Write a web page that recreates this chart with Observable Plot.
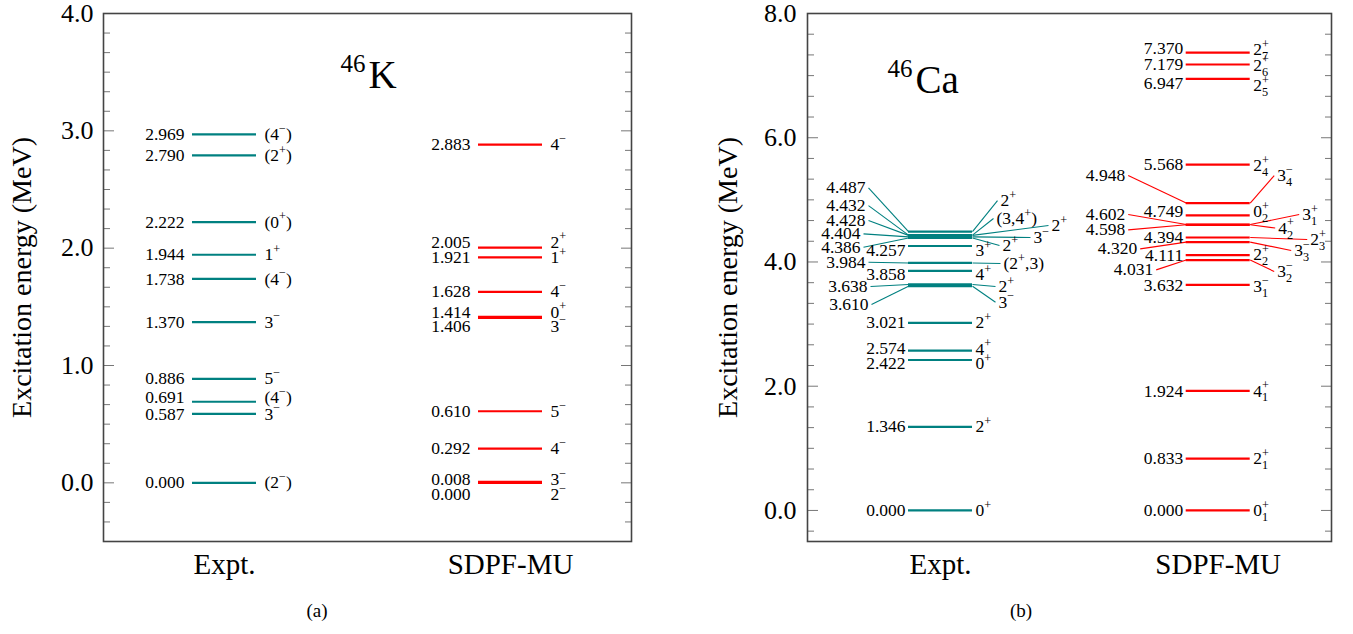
<!DOCTYPE html>
<html><head><meta charset="utf-8">
<script src="https://cdn.jsdelivr.net/npm/d3@7"></script>
<script src="https://cdn.jsdelivr.net/npm/@observablehq/plot@0.6"></script>
<style>
body{margin:0;background:#fff;}
#wrap{position:relative;width:1353px;height:634px;overflow:hidden;background:#fff;}
.pan{position:absolute;top:0;}
.cap{position:absolute;top:600px;font-size:19px;line-height:22px;transform:translateX(-50%);color:#000;font-family:'Liberation Serif';}
</style></head><body>
<div id="wrap">
  <div class="pan" id="pa" style="left:0px"></div>
  <div class="pan" id="pb" style="left:680px"></div>
  <div class="cap" style="left:317px">(a)</div>
  <div class="cap" style="left:1021px">(b)</div>
</div>
<script>
// ================= DATA =================
const columns = ["Expt.", "SDPF-MU"];

// (a) 46K
const kExptEnergy = [0.000, 0.587, 0.691, 0.886, 1.370, 1.738, 1.944, 2.222, 2.790, 2.969];
const kExptSpin   = ["(2^−)", "3^−", "(4^−)", "5^−", "3^−", "(4^−)", "1^+", "(0^+)", "(2^+)", "(4^−)"];
const kTheoEnergy = [0.000, 0.008, 0.292, 0.610, 1.406, 1.414, 1.628, 1.921, 2.005, 2.883];
const kTheoSpin   = ["2^−", "3^−", "4^−", "5^−", "3^−", "0^+", "4^−", "1^+", "2^+", "4^−"];
const kTicks = [0, 1, 2, 3, 4];

// (b) 46Ca
const caExptEnergy = [0.000, 1.346, 2.422, 2.574, 3.021, 3.610, 3.638, 3.858, 3.984, 4.257, 4.386, 4.404, 4.428, 4.432, 4.487];
const caExptSpin   = ["0^+", "2^+", "0^+", "4^+", "2^+", "3^−", "2^+", "4^+", "(2^+,3)", "3^+", "2^+", "3^−", "2^+", "(3,4^+)", "2^+"];
const caTheoEnergy = [0.000, 0.833, 1.924, 3.632, 4.031, 4.111, 4.320, 4.394, 4.598, 4.602, 4.749, 4.948, 5.568, 6.947, 7.179, 7.370];
const caTheoSpin   = ["0^+_1", "2^+_1", "4^+_1", "3^−_1", "3^−_2", "2^+_2", "3^−_3", "2^+_3", "4^+_2", "3^+_1", "0^+_2", "3^−_4", "2^+_4", "2^+_5", "2^+_6", "2^+_7"];
const caTicks = [0, 2, 4, 6, 8];

// label placement (MeV where each label sits) and leader lengths
const kExptLabelE = [0.000, 0.587, 0.724, 0.886, 1.370, 1.738, 1.944, 2.222, 2.790, 2.969];
const kTheoLabelE = [-0.102, 0.026, 0.292, 0.610, 1.335, 1.454, 1.628, 1.918, 2.051, 2.883];

const caExptLeftE   = [0.000, 1.346, 2.363, 2.613, 3.021, 3.315, 3.604, 3.797, 3.995, 4.184, 4.237, 4.453, 4.667, 4.908, 5.193];
const caExptLeftLead  = [0, 0, 0, 0, 0, 37, 38, 0, 40, 0, 45, 45, 40, 40, 40];
const caExptRightE  = [0.000, 1.346, 2.365, 2.600, 3.021, 3.352, 3.604, 3.797, 3.975, 4.184, 4.264, 4.393, 4.586, 4.699, 4.989];
const caExptRightLead = [0, 0, 0, 0, 0, 23, 23, 0, 28, 0, 27, 58, 76, 21, 25];

const caTheoLeftE   = [0.000, 0.833, 1.924, 3.620, 3.873, 4.103, 4.211, 4.398, 4.517, 4.763, 4.817, 5.391, 5.563, 6.867, 7.178, 7.431];
const caTheoLeftLead  = [0, 0, 0, 0, 30, 0, 46, 0, 58, 58, 0, 58, 0, 0, 0, 0];
const caTheoRightE  = [0.000, 0.833, 1.924, 3.604, 3.846, 4.119, 4.184, 4.361, 4.546, 4.763, 4.812, 5.391, 5.557, 6.840, 7.170, 7.420];
const caTheoRightLead = [0, 0, 0, 0, 24, 0, 41, 57, 25, 49, 0, 24, 0, 0, 0, 0];

// ================= DRAWING =================
const TEAL = "#008080", RED = "#ff0000";

function rows(E, J, lE, lLead, rE, rLead, cx, half) {
  return E.map((e, i) => ({
    E: e, J: J[i], lE: lE[i], lLead: lLead ? lLead[i] : 0,
    rE: rE[i], rLead: rLead ? rLead[i] : 0, x0: cx - half, x1: cx + half
  }));
}

function levelMarks(data, color, gap, fs) {
  return [
    Plot.link(data.filter(d => d.lLead > 0), {x1: "x0", y1: "E", x2: d => d.x0 - d.lLead, y2: "lE", stroke: color, strokeWidth: 1.1}),
    Plot.link(data.filter(d => d.rLead > 0), {x1: "x1", y1: "E", x2: d => d.x1 + d.rLead, y2: "rE", stroke: color, strokeWidth: 1.1}),
    Plot.ruleY(data, {y: "E", x1: "x0", x2: "x1", stroke: color, strokeWidth: 2.2}),
    Plot.text(data, {x: d => d.x0 - d.lLead, y: "lE", text: d => d.E.toFixed(3), textAnchor: "end", dx: -gap, fontSize: fs, lineAnchor: "middle", fontFamily: "Liberation Serif"}),
    Plot.text(data, {x: d => d.x1 + d.rLead, y: "rE", text: "J", textAnchor: "start", dx: gap, fontSize: fs, lineAnchor: "middle", fontFamily: "Liberation Serif"})
  ];
}

function panel(cfg) {
  const minor = d3.range(Math.ceil(cfg.yDomain[0] * cfg.nMinor / cfg.major), Math.floor(cfg.yDomain[1] * cfg.nMinor / cfg.major) + 1)
    .map(k => k * cfg.major / cfg.nMinor).filter(v => Math.abs(v / cfg.major - Math.round(v / cfg.major)) > 1e-6);
  const tickStyle = {stroke: "#777", strokeWidth: 1};
  return Plot.plot({
    width: cfg.marginLeft + cfg.W + cfg.marginRight,
    height: 585,
    marginTop: 13, marginBottom: 44, marginLeft: cfg.marginLeft, marginRight: cfg.marginRight,
    style: {fontFamily: "Liberation Serif"},
    x: {domain: [0, cfg.W]},
    y: {domain: cfg.yDomain},
    marks: [
      Plot.axisY({anchor: "left", ticks: minor, tickSize: -7, tickFormat: () => "", label: null, ...tickStyle}),
      Plot.axisY({anchor: "right", ticks: minor, tickSize: -7, tickFormat: () => "", label: null, ...tickStyle}),
      Plot.axisY({anchor: "left", ticks: cfg.ticks, tickSize: -11, tickFormat: () => "", label: null, ...tickStyle}),
      Plot.axisY({anchor: "right", ticks: cfg.ticks, tickSize: -11, tickFormat: () => "", label: null, ...tickStyle}),
      Plot.axisY({anchor: "left", ticks: cfg.ticks, tickSize: 0, tickPadding: cfg.tickPad, tickFormat: d3.format(".1f"), fontSize: 26, label: null, fontFamily: "Liberation Serif"}),
      Plot.axisX({ticks: cfg.cols, tickSize: 0, tickPadding: 12, fontSize: 29, label: null, fontFamily: "Liberation Serif",
        tickFormat: d => columns[cfg.cols.indexOf(d)]}),
      Plot.frame({stroke: "#444", strokeWidth: 1.6}),
      Plot.text(["Excitation energy (MeV)"], {frameAnchor: "left", rotate: -90, dx: cfg.ylabDx, fontSize: 28, textAnchor: "middle", lineAnchor: "middle", fontFamily: "Liberation Serif"}),
      Plot.text([cfg.titleMass], {x: cfg.titleX, y: cfg.titleSupE, text: d => d, textAnchor: "end", fontSize: 25, lineAnchor: "middle", fontFamily: "Liberation Serif"}),
      Plot.text([cfg.titleEl], {x: cfg.titleX + 3, y: cfg.titleE, text: d => d, textAnchor: "start", fontSize: 39, lineAnchor: "middle", fontFamily: "Liberation Serif"}),
      ...levelMarks(cfg.expt, TEAL, cfg.gap, 17.5),
      ...levelMarks(cfg.theo, RED, cfg.gap, 17.5)
    ]
  });
}

function rich(textEl) {
  const s = textEl.textContent;
  if (!/[\^_]/.test(s)) return;
  const F = 17.5;
  const NS = "http://www.w3.org/2000/svg";
  while (textEl.firstChild) textEl.removeChild(textEl.firstChild);
  let cur = 0, buf = "", supW = 0, i = 0;
  const flush = () => {
    if (!buf) return;
    const t = document.createElementNS(NS, "tspan");
    if (cur !== 0) { t.setAttribute("dy", -cur); cur = 0; }
    t.textContent = buf; textEl.appendChild(t); buf = "";
  };
  while (i < s.length) {
    const c = s[i];
    if (c === "^" || c === "_") {
      flush();
      const ch = s[i + 1]; i += 2;
      const t = document.createElementNS(NS, "tspan");
      t.setAttribute("font-size", (0.7 * F).toFixed(2));
      if (c === "^") {
        const target = -0.42 * F;
        t.setAttribute("dy", (target - cur).toFixed(2)); cur = target;
        supW = 0.564 * 0.7 * F;
      } else {
        const target = 0.28 * F;
        if (supW) t.setAttribute("dx", (-supW).toFixed(2));
        t.setAttribute("dy", (target - cur).toFixed(2)); cur = target;
        supW = 0;
      }
      t.textContent = ch; textEl.appendChild(t);
    } else { buf += c; i++; }
  }
  flush();
}

// Panel (a)
const aCols = [121, 407];
const svgA = panel({
  W: 528, marginLeft: 103, marginRight: 20, yDomain: [-0.5, 4.0], major: 1, nMinor: 6, ticks: kTicks,
  cols: aCols, tickPad: 10, ylabDx: -81, gap: 8,
  titleMass: "46", titleEl: "K", titleX: 262, titleSupE: 3.567, titleE: 3.473,
  expt: rows(kExptEnergy, kExptSpin, kExptLabelE, null, kExptLabelE, null, aCols[0], 32),
  theo: rows(kTheoEnergy, kTheoSpin, kTheoLabelE, null, kTheoLabelE, null, aCols[1], 32)
});
svgA.querySelectorAll("text").forEach(rich);
document.getElementById("pa").appendChild(svgA);

// Panel (b)
const bCols = [133, 410.7];
const svgB = panel({
  W: 524, marginLeft: 127, marginRight: 20, yDomain: [-0.5, 8.0], major: 2, nMinor: 6, ticks: caTicks,
  cols: bCols, tickPad: 11, ylabDx: -79, gap: 3,
  titleMass: "46", titleEl: "Ca", titleX: 105, titleSupE: 7.109, titleE: 6.924,
  expt: rows(caExptEnergy, caExptSpin, caExptLeftE, caExptLeftLead, caExptRightE, caExptRightLead, bCols[0], 32),
  theo: rows(caTheoEnergy, caTheoSpin, caTheoLeftE, caTheoLeftLead, caTheoRightE, caTheoRightLead, bCols[1], 32)
});
svgB.querySelectorAll("text").forEach(rich);
document.getElementById("pb").appendChild(svgB);
</script>
</body></html>
